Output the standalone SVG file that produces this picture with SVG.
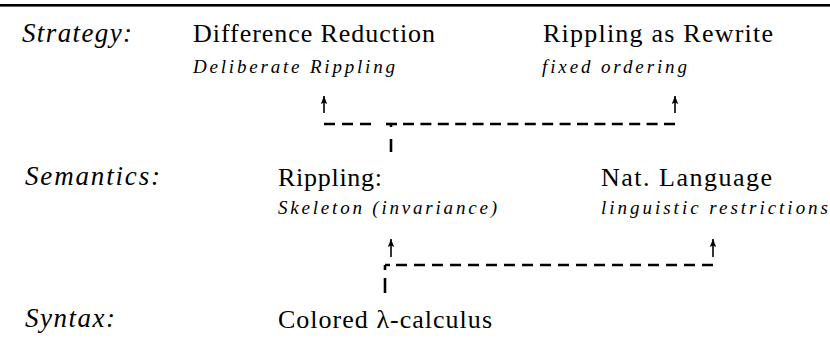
<svg xmlns="http://www.w3.org/2000/svg" width="830" height="343" viewBox="0 0 830 343" font-family="'Liberation Serif', 'DejaVu Serif', serif">
<style>
text{font-family:'Liberation Serif','DejaVu Serif',serif;fill:#000}
.lab{font-style:italic;font-size:27px}
.main{font-size:26px}
.sub{font-style:italic;font-size:19px}
.arr{stroke:#000;stroke-width:1.6;fill:none;marker-end:url(#ah)}
.dash{stroke:#000;stroke-width:2.6;fill:none;stroke-dasharray:11 7}
</style>
<defs>
<marker id="ah" markerUnits="userSpaceOnUse" markerWidth="12" markerHeight="12" viewBox="-8 -6 12 12" refX="0" refY="0" orient="auto">
<path d="M0,0 L-8,-3.2 L-6.5,0 L-8,3.2 Z" fill="#000"/>
</marker>
</defs>
<rect x="0" y="4" width="830" height="2.6" fill="#000"/>
<g id="row-labels">
<text class="lab" x="22" y="42" textLength="110">Strategy:</text>
<text class="lab" x="25" y="185" textLength="135">Semantics:</text>
<text class="lab" x="25" y="327" textLength="90">Syntax:</text>
</g>
<g id="node-difference-reduction">
<text class="main" x="193" y="42" textLength="242">Difference Reduction</text>
<text class="sub" x="193" y="73" textLength="202">Deliberate Rippling</text>
</g>
<g id="node-rippling-rewrite">
<text class="main" x="543" y="42" textLength="230">Rippling as Rewrite</text>
<text class="sub" x="542" y="73" textLength="145">fixed ordering</text>
</g>
<g id="node-rippling">
<text class="main" x="278" y="186" textLength="104">Rippling:</text>
<text class="sub" x="278" y="214" textLength="219">Skeleton (invariance)</text>
</g>
<g id="node-nat-language">
<text class="main" x="601" y="186" textLength="171">Nat. Language</text>
<text class="sub" x="601" y="214" textLength="227">linguistic restrictions</text>
</g>
<g id="node-colored">
<text class="main" x="278" y="328" textLength="214">Colored λ-calculus</text>
</g>
<g id="connectors">
<path class="dash" d="M391,124 V152" style="stroke-dasharray:3 12 14"/>
<path class="dash" d="M324,124 H372"/>
<path class="dash" d="M386,124 H397" style="stroke-dasharray:none"/>
<path class="dash" d="M403,124 H675" style="stroke-dasharray:11 6.4"/>
<path class="arr" d="M324,113 V96"/>
<path class="arr" d="M675,113 V96"/>
<path class="dash" d="M385,265 V293" style="stroke-dasharray:5 8 16"/>
<path class="dash" d="M385,265 H714" style="stroke-dasharray:5 6 11 7 11 7 11 7 11 7 11 7 11 7 11 7 11 7 11 7 11 7 11 7 11 7 11 7 11 7 11 7 11 7 11 7 11 7 11 7 11 100"/>
<path class="arr" d="M391,257 V239"/>
<path class="arr" d="M713,257 V239"/>
</g>
</svg>
